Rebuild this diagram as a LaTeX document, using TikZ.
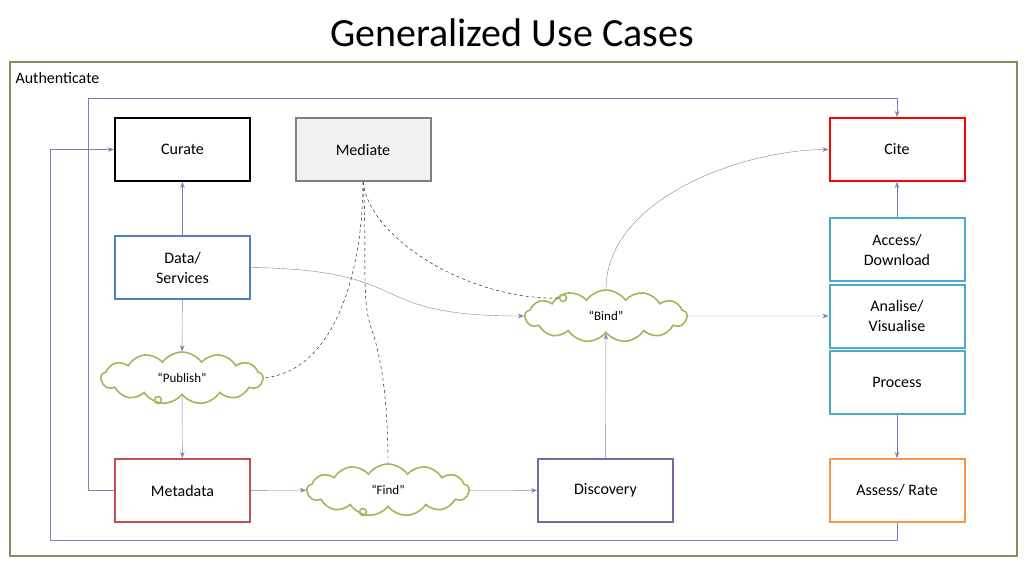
\documentclass[tikz,border=0pt]{standalone}
\usepackage{fontspec}
\setmainfont{Carlito}
\usetikzlibrary{arrows.meta,positioning,shapes.symbols}
\definecolor{frame}{HTML}{8C8C5A}
\definecolor{link}{HTML}{7F7FB8}
\definecolor{cloudg}{HTML}{9BBB59}
\definecolor{dblue}{HTML}{4F81BD}
\definecolor{teal2}{HTML}{4BACC6}
\definecolor{mred}{HTML}{C0504D}
\definecolor{dpurple}{HTML}{8064A2}
\definecolor{aorange}{HTML}{F79646}
\begin{document}
\begin{tikzpicture}[x=1pt,y=-1pt,
		basic/.style = {draw, line width=2pt, minimum width=135pt, minimum height=63pt, align=center, font=\fontsize{16}{20}\selectfont},
		bubble/.style = {cloud, cloud puffs=13, cloud puff arc=110, aspect=3.2, draw=cloudg, line width=1.6pt, fill=white, minimum width=162pt, minimum height=52pt, font=\fontsize{13}{15}\selectfont},
		tail/.style = {draw=cloudg, line width=1.6pt, circle, inner sep=0pt, minimum size=7pt},
		conn/.style = {draw=link, -{Stealth[length=6pt]}},
		med/.style = {draw, dashed, thin}]

		\useasboundingbox (0,0) rectangle (1024,576);
		\node[font=\fontsize{40}{44}\selectfont] (title) at (512,33) {Generalized Use Cases};
		\draw[frame, line width=1.8pt] (10,62) rectangle (1017,556);
		\node[anchor=west, font=\fontsize{16}{19}\selectfont] (auth) at (12,78) {Authenticate};

		% boxes
		\node[basic] (curate) at (182.5,149.5) {Curate};
		\node[basic, draw=gray, fill=gray!10] (mediate) at (363,149.5) {Mediate};
		\node[basic, draw=red] (cite) at (897,149.5) {Cite};
		\node[basic, draw=dblue] (data) at (182.5,267.5) {Data/\\Services};
		\node[basic, draw=teal2] (access) at (897,249.5) {Access/\\Download};
		\node[basic, draw=teal2] (analise) at (897,316) {Analise/\\Visualise};
		\node[basic, draw=teal2] (process) at (897,382) {Process};
		\node[basic, draw=mred] (meta) at (182.5,490.5) {Metadata};
		\node[basic, draw=dpurple] (disc) at (605.5,490.5) {Discovery};
		\node[basic, draw=aorange] (assess) at (897,490.5) {Assess/ Rate};

		% clouds
		\node[bubble] (publish) at (182,378) {``Publish''};
		\node[bubble] (find) at (388,490) {``Find''};
		\node[bubble] (bind) at (606,316) {``Bind''};
		\node[tail] (t1) at (158,400) {};
		\node[tail] (t2) at (363,512) {};
		\node[tail] (t3) at (563,298) {};

		% connectors
		\draw[conn] (data) -- (curate);
		\draw[conn] (data) -- (publish);
		\draw[conn] (publish) -- (meta);
		\draw[conn] (meta) -- (find);
		\draw[conn] (find) -- (disc);
		\draw[conn] (disc) -- (bind);
		\draw[conn] (bind) -- (analise);
		\draw[conn] (access) -- (cite);
		\draw[conn] (process) -- (assess);
		\draw[conn] (bind.north) .. controls (606,200) and (740,150) .. (cite.west);
		\draw[conn] (data.east) .. controls (420,270) and (360,316) .. (bind.west);
		\draw[conn] (meta.west) -- (88,490.5) -- (88,98) -| (cite.north);
		\draw[conn] (assess.south) -- (897,540) -- (50,540) |- (curate.west);

		% mediation
		\draw[med] (mediate.south) .. controls (363,260) and (340,370) .. (publish.east);
		\draw[med] (mediate.south) .. controls (368,250) and (360,300) .. (372,330) .. controls (385,370) and (388,420) .. (find.north);
		\draw[med] (mediate.south) .. controls (370,240) and (470,300) .. (t3);
	\end{tikzpicture}
\end{document}
